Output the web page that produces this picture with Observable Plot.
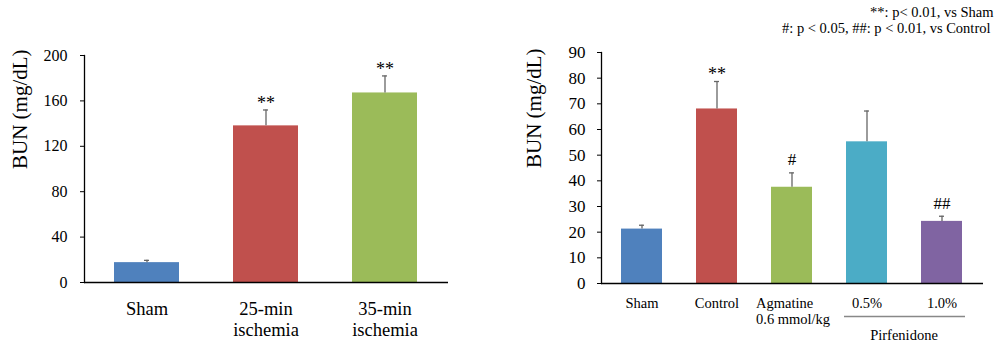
<!DOCTYPE html>
<html><head><meta charset="utf-8">
<script src="https://cdn.jsdelivr.net/npm/d3@7"></script>
<script src="https://cdn.jsdelivr.net/npm/@observablehq/plot@0.6"></script>
<style>
body{margin:0;background:#fff;}
#wrap{display:flex;width:1000px;height:351px;overflow:hidden;}
svg text{font-family:'Liberation Serif','Times New Roman',serif !important;}
</style></head><body><div id="wrap"></div>
<script>
// ---- data: left panel ----
const leftGroups = ["Sham", "25-min\nischemia", "35-min\nischemia"];
const leftMeans = [17.5, 138, 167];
const leftErrors = [2, 14, 15];
const leftSig = ["", "**", "**"];
const leftColors = ["#4f81bd", "#c0504d", "#9bbb59"];
const leftTicks = [0, 40, 80, 120, 160, 200];

// ---- data: right panel ----
const rightGroups = ["Sham", "Control", "Agmatine\n0.6 mmol/kg", "0.5%", "1.0%"];
const rightMeans = [21.2, 68, 37.5, 55.2, 24.2];
const rightErrors = [1.5, 10.7, 5.6, 12, 2];
const rightSig = ["", "**", "#", "", "##"];
const rightColors = ["#4f81bd", "#c0504d", "#9bbb59", "#4bacc6", "#8064a2"];
const rightTicks = [0, 10, 20, 30, 40, 50, 60, 70, 80, 90];

const pirfenidoneGroups = ["0.5%", "1.0%"];
const pirfenidoneLabel = "Pirfenidone";
const yLabel = "BUN (mg/dL)";
const legendLines = ["**: p< 0.01, vs Sham", "#: p < 0.05, ##: p < 0.01, vs Control"];

const FONT = "'Liberation Serif', 'Times New Roman', serif";
const ERR = "#666";
const F = {fontFamily: FONT};

const leftData = leftGroups.map((g, i) => ({group: g, mean: leftMeans[i], err: leftErrors[i], sig: leftSig[i]}));
const rightData = rightGroups.map((g, i) => ({group: g, mean: rightMeans[i], err: rightErrors[i], sig: rightSig[i]}));

const left = Plot.plot({
  width: 500, height: 351,
  marginLeft: 84, marginRight: 52, marginTop: 55, marginBottom: 69,
  style: {fontFamily: FONT, fontSize: "16px", color: "#000", background: "#fff"},
  x: {type: "band", domain: leftGroups, paddingInner: 0.45, paddingOuter: 0.25, axis: null},
  y: {domain: [0, 200]},
  color: {domain: leftGroups, range: leftColors},
  marks: [
    Plot.barY(leftData, {x: "group", y: "mean", fill: "group"}),
    Plot.ruleX(leftData, {x: "group", y1: "mean", y2: d => d.mean + d.err, stroke: ERR, strokeWidth: 1.3}),
    Plot.tickY(leftData, {x: "group", y: d => d.mean + d.err, stroke: ERR, strokeWidth: 1.3, insetLeft: 30, insetRight: 30}),
    Plot.text(leftData, {...F, x: "group", y: d => d.mean + d.err, text: "sig", dy: -7, fontSize: 18, lineAnchor: "middle"}),
    Plot.ruleY([0], {stroke: "#000", strokeWidth: 1.3}),
    Plot.frame({anchor: "left", stroke: "#000", strokeWidth: 1.3}),
    Plot.axisY({...F, ticks: leftTicks, tickSize: 4, tickPadding: 13, fontSize: 16, label: null, stroke: "#000"}),
    Plot.text(leftData, {...F, x: "group", text: "group", frameAnchor: "bottom", lineAnchor: "top", dy: 18, fontSize: 18.5, lineHeight: 1.13}),
    Plot.text([yLabel], {...F, frameAnchor: "left", rotate: -90, dx: -64, fontSize: 21, lineAnchor: "middle"})
  ]
});

const centered = rightData.filter(d => !d.group.startsWith("Agmatine"));
const agm = rightData.filter(d => d.group.startsWith("Agmatine"));
const stars = rightData.filter(d => d.sig.startsWith("*"));
const hashes = rightData.filter(d => d.sig.startsWith("#"));

const right = Plot.plot({
  width: 500, height: 351,
  marginLeft: 101, marginRight: 17, marginTop: 52, marginBottom: 68,
  style: {fontFamily: FONT, fontSize: "16px", color: "#000", background: "#fff"},
  x: {type: "band", domain: rightGroups, paddingInner: 0.45, paddingOuter: 0.26, axis: null},
  y: {domain: [0, 90]},
  color: {domain: rightGroups, range: rightColors},
  marks: [
    Plot.barY(rightData, {x: "group", y: "mean", fill: "group"}),
    Plot.ruleX(rightData, {x: "group", y1: "mean", y2: d => d.mean + d.err, stroke: ERR, strokeWidth: 1.3}),
    Plot.tickY(rightData, {x: "group", y: d => d.mean + d.err, stroke: ERR, strokeWidth: 1.3, insetLeft: 18, insetRight: 18}),
    Plot.text(stars, {...F, x: "group", y: d => d.mean + d.err, text: "sig", dy: -7, fontSize: 18, lineAnchor: "middle"}),
    Plot.text(hashes, {...F, x: "group", y: d => d.mean + d.err, text: "sig", dy: -13, fontSize: 17, lineAnchor: "middle"}),
    Plot.ruleY([0], {stroke: "#000", strokeWidth: 1.3}),
    Plot.frame({anchor: "left", stroke: "#000", strokeWidth: 1.3}),
    Plot.axisY({...F, ticks: rightTicks, tickSize: 4, tickPadding: 12, fontSize: 17, label: null, stroke: "#000"}),
    Plot.text(centered, {...F, x: "group", text: "group", frameAnchor: "bottom", lineAnchor: "top", dy: 13, fontSize: 14.5, lineHeight: 1.12}),
    Plot.text(agm, {...F, x: "group", text: "group", frameAnchor: "bottom", lineAnchor: "top", textAnchor: "start", dx: -36, dy: 13, fontSize: 14.5, lineHeight: 1.12}),
    Plot.ruleY([0], {x1: () => pirfenidoneGroups[0], x2: () => pirfenidoneGroups[1], dy: 33, stroke: "#888", strokeWidth: 1.3, insetLeft: -2, insetRight: -3}),
    Plot.text([pirfenidoneLabel], {...F, x: () => pirfenidoneGroups[0], frameAnchor: "bottom", dx: 37, dy: 52, lineAnchor: "middle", fontSize: 14.5}),
    Plot.text([legendLines[0]], {...F, frameAnchor: "top-right", textAnchor: "end", dx: 10, dy: -40, lineAnchor: "middle", fontSize: 14.5}),
    Plot.text([legendLines[1]], {...F, frameAnchor: "top-right", textAnchor: "end", dx: 7, dy: -24, lineAnchor: "middle", fontSize: 14.5}),
    Plot.text([yLabel], {...F, frameAnchor: "left", rotate: -90, dx: -67, fontSize: 21, lineAnchor: "middle"})
  ]
});

document.getElementById("wrap").append(left, right);
</script>
</body></html>
